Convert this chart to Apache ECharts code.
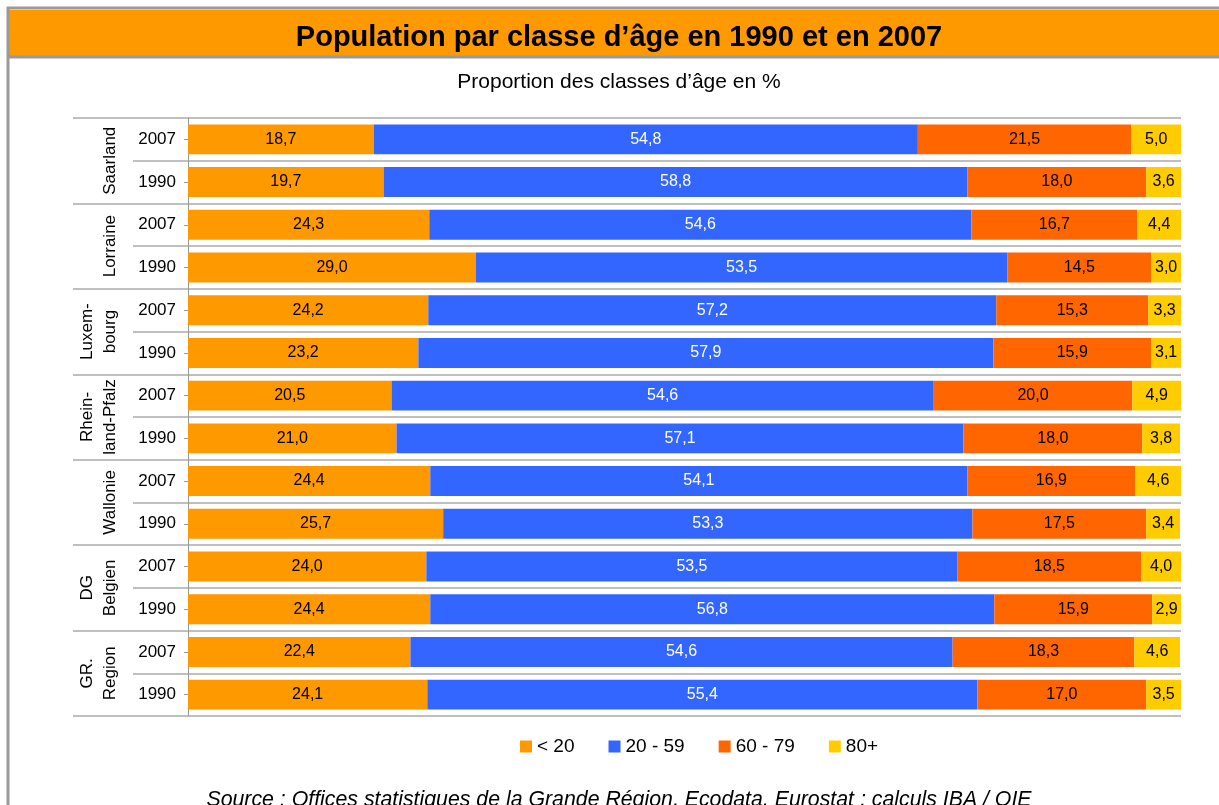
<!DOCTYPE html>
<html>
<head>
<meta charset="utf-8">
<script src="https://cdn.jsdelivr.net/npm/echarts@6/dist/echarts.min.js"></script>
<style>
    html, body { margin: 0; padding: 0; background: #fff; }
    #chart { width: 1219px; height: 805px; }
</style>
</head>
<body>
<div id="chart"></div>
<script>
const regions = ['Saarland', 'Lorraine', 'Luxem-\nbourg', 'Rhein-\nland-Pfalz', 'Wallonie', 'DG\nBelgien', 'GR.\nRegion'];
const years = ['2007', '1990', '2007', '1990', '2007', '1990', '2007', '1990', '2007', '1990', '2007', '1990', '2007', '1990'];
const ageClasses = ['< 20', '20 - 59', '60 - 79', '80+'];

const under20 = [18.7, 19.7, 24.3, 29.0, 24.2, 23.2, 20.5, 21.0, 24.4, 25.7, 24.0, 24.4, 22.4, 24.1];
const age20to59 = [54.8, 58.8, 54.6, 53.5, 57.2, 57.9, 54.6, 57.1, 54.1, 53.3, 53.5, 56.8, 54.6, 55.4];
const age60to79 = [21.5, 18.0, 16.7, 14.5, 15.3, 15.9, 20.0, 18.0, 16.9, 17.5, 18.5, 15.9, 18.3, 17.0];
const age80plus = [5.0, 3.6, 4.4, 3.0, 3.3, 3.1, 4.9, 3.8, 4.6, 3.4, 4.0, 2.9, 4.6, 3.5];

const colors = ['#ff9900', '#3366ff', '#ff6600', '#ffcc00'];
const labelColors = ['#000', '#fff', '#000', '#000'];
const FONT = '"Liberation Sans", Arial, sans-serif';

function makeSeries(name, values, i) {
    return {
        name: name,
        type: 'bar',
        stack: 'total',
        yAxisIndex: 0,
        barCategoryGap: '30%',
        data: values,
        itemStyle: { color: colors[i] },
        label: {
            show: true,
            position: 'inside',
            color: labelColors[i],
            fontFamily: FONT,
            fontSize: 16,
            formatter: p => p.value.toFixed(1).replace('.', ',')
        }
    };
}

const myChart = echarts.init(document.getElementById('chart'));

const option = {
    animation: false,
    color: colors,
    textStyle: { fontFamily: FONT },
    title: [
        {
            text: 'Population par classe d\u2019âge en 1990 et en 2007',
            left: 614,
            top: 18,
            textAlign: 'center',
            textStyle: { fontFamily: FONT, fontSize: 29, fontWeight: 'bold', color: '#000' }
        },
        {
            text: 'Proportion des classes d\u2019âge en %',
            left: 614,
            top: 67,
            textAlign: 'center',
            textStyle: { fontFamily: FONT, fontSize: 21, fontWeight: 'normal', color: '#000' }
        },
        {
            text: 'Source : Offices statistiques de la Grande Région, Ecodata, Eurostat ; calculs IBA / OIE',
            left: 614,
            top: 785,
            textAlign: 'center',
            textStyle: { fontFamily: FONT, fontSize: 21.3, fontStyle: 'italic', fontWeight: 'normal', color: '#000' }
        }
    ],
    graphic: [
        {
            type: 'rect',
            shape: { x: 8, y: 8, width: 1220, height: 810 },
            style: { fill: null, stroke: '#999', lineWidth: 3 },
            z: 10
        },
        {
            type: 'rect',
            shape: { x: 9, y: 10, width: 1212, height: 46 },
            style: { fill: '#ff9900' },
            z: -1
        },
        {
            type: 'line',
            shape: { x1: 8, y1: 57, x2: 1219, y2: 57 },
            style: { stroke: '#999', lineWidth: 3 }
        }
    ],
    legend: {
        data: ageClasses,
        left: 515,
        top: 732,
        itemWidth: 12,
        itemHeight: 12,
        itemGap: 34,
        icon: 'rect',
        textStyle: { fontFamily: FONT, fontSize: 19, color: '#000' }
    },
    grid: {
        left: 188,
        right: 38,
        top: 118,
        bottom: 89
    },
    xAxis: {
        type: 'value',
        min: 0,
        max: 100,
        show: false
    },
    yAxis: [
        {
            type: 'category',
            data: years,
            inverse: true,
            position: 'left',
            axisLine: { show: true, lineStyle: { color: '#999', width: 1 } },
            axisTick: { show: true, alignWithLabel: true, length: 4, interval: 0, lineStyle: { color: '#999' } },
            axisLabel: { interval: 0, margin: 12, fontSize: 17, color: '#000', fontFamily: FONT },
            splitLine: { show: true, interval: 0, lineStyle: { color: '#aaa', width: 1.5 } }
        },
        {
            type: 'category',
            data: years,
            inverse: true,
            position: 'left',
            axisLine: { show: false },
            axisTick: { show: true, length: 55, interval: 0, lineStyle: { color: '#aaa', width: 1.5 } },
            axisLabel: { show: false },
            splitLine: { show: false }
        },
        {
            type: 'category',
            data: regions,
            inverse: true,
            position: 'left',
            axisLine: { show: false },
            axisTick: { show: true, length: 115, interval: 0, lineStyle: { color: '#aaa', width: 1.5 } },
            axisLabel: {
                interval: 0,
                rotate: 90,
                margin: 66,
                fontSize: 17,
                lineHeight: 23,
                color: '#000',
                fontFamily: FONT
            },
            splitLine: { show: false }
        }
    ],
    series: [
        makeSeries(ageClasses[0], under20, 0),
        makeSeries(ageClasses[1], age20to59, 1),
        makeSeries(ageClasses[2], age60to79, 2),
        makeSeries(ageClasses[3], age80plus, 3)
    ]
};

myChart.setOption(option);
</script>
</body>
</html>
